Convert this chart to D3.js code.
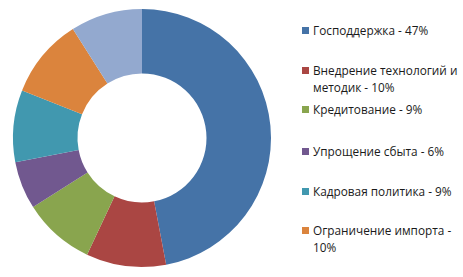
<!DOCTYPE html>
<html lang="ru">
<head>
<meta charset="UTF-8">
<script src="https://d3js.org/d3.v7.min.js"></script>
<style>
  body { margin: 0; background: #fff; }
  svg text { font-family: "Open Sans", "Noto Sans", sans-serif; font-size: 11.8px; fill: #1a1a1a; }
</style>
</head>
<body>
<svg id="chart"></svg>
<script>
// данные
const labels = ["Господдержка", "Внедрение технологий и методик", "Кредитование",
                "Упрощение сбыта", "Кадровая политика", "Ограничение импорта", "Прочее"];
const values = [47, 10, 9, 6, 9, 10, 9];
const colors = ["#4573a7", "#aa4643", "#89a54e", "#71588f", "#4198af", "#db843d", "#93a9cf"];
// строки легенды (последний сектор в легенду не попал)
const legendLines = [
  ["Господдержка - 47%"],
  ["Внедрение технологий и", "методик - 10%"],
  ["Кредитование - 9%"],
  ["Упрощение сбыта - 6%"],
  ["Кадровая политика - 9%"],
  ["Ограничение импорта -", "10%"]
];
const legendY = [35, 75, 114, 156, 196, 235];

const W = 463, H = 277;
const cx = 142, cy = 138, rOuter = 129, rInner = 64.5;

const svg = d3.select("#chart").attr("width", W).attr("height", H);

const pie = d3.pie().sort(null).value(d => d)(values);
const arc = d3.arc().innerRadius(rInner).outerRadius(rOuter);

svg.append("g")
  .attr("transform", `translate(${cx},${cy})`)
  .selectAll("path")
  .data(pie)
  .join("path")
  .attr("d", arc)
  .attr("fill", (d, i) => colors[i]);

// легенда
const items = svg.append("g")
  .selectAll("g")
  .data(legendLines)
  .join("g")
  .attr("transform", (d, i) => `translate(302,${legendY[i]})`);

items.append("rect")
  .attr("x", 0).attr("y", -8)
  .attr("width", 7).attr("height", 7)
  .attr("fill", (d, i) => colors[i]);

// каждая строка отдельным text
items.selectAll("text")
  .data(d => d)
  .join("text")
  .attr("x", 11)
  .attr("y", (d, j) => j * 16.5)
  .text(d => d);
</script>
</body>
</html>
